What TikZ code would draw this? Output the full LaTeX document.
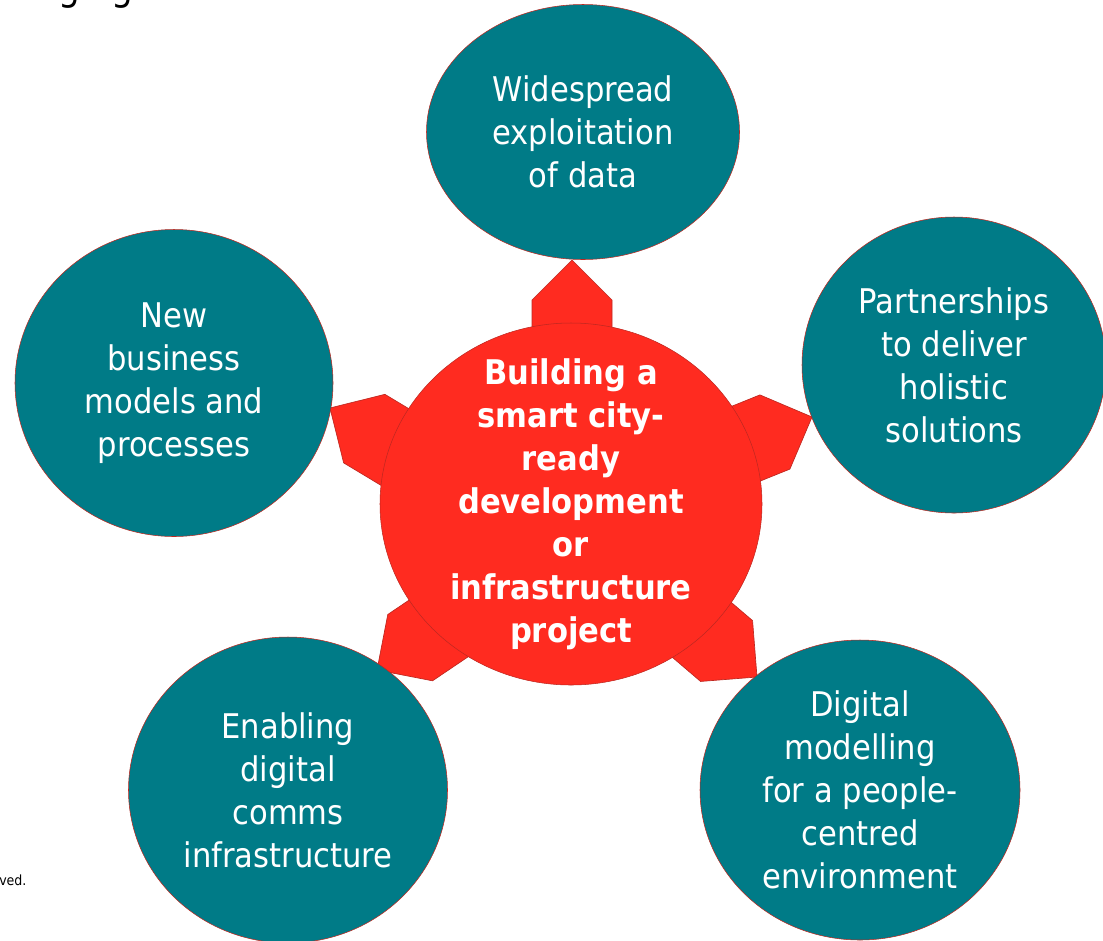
\documentclass[tikz,border=0pt]{standalone}
\usepackage{fontspec}
\setmainfont{DejaVu Sans Condensed}
\usetikzlibrary{shapes.geometric}
\definecolor{cityteal}{RGB}{0,123,135}
\definecolor{cityred}{RGB}{255,43,32}
\definecolor{cityedge}{RGB}{190,40,32}

\begin{document}
\begin{tikzpicture}[x=0.75pt, y=-0.75pt,
  hub/.style={ellipse, draw=cityedge, fill=cityred, inner sep=0pt,
    minimum width=286.5pt, minimum height=271.5pt},
  hubtext/.style={text=white, inner sep=0pt, align=center,
    font=\bfseries\fontsize{25.5}{32.25}\selectfont},
  spoke/.style={ellipse, draw=cityedge, fill=cityteal, text=white, inner sep=0pt,
    font=\fontsize{25.5}{32.25}\selectfont, align=center},
  pointer/.style={draw=cityedge, fill=cityred, line width=0.5pt}]
\useasboundingbox (0,0) rectangle (1103,940);

% Cut-off page text
\node[anchor=base west, inner sep=0pt, font=\fontsize{28.5}{34}\selectfont] (title) at (58,0) {ging};
\node[anchor=base west, inner sep=0pt, font=\fontsize{10.5}{12}\selectfont] (footer) at (-1,885) {ved.};

% Arrows: tip x / tip y / direction
\foreach \tx/\ty/\a in {572/260/90, 812/417/22, 330/408/149, 377/670/214, 757/677/319.5}
  \draw[pointer, shift={(\tx,\ty)}, rotate=\a] (0,0) -- (-40,40) -- (-150,40) -- (-150,-40) -- (-40,-40) -- cycle;

% Centre
\node[hub] (hub) at (571,504) {};
\node[hubtext] (hublabel) at (hub.center) {Building a\\smart city-\\ready\\development\\or\\infrastructure\\project};

% Outer circles
\node[spoke, minimum width=234.75pt, minimum height=191.25pt] (data) at (583,132) {Widespread\\exploitation\\of data};
\node[spoke, minimum width=228pt, minimum height=222pt] (partners) at (954,365) {Partnerships\\to deliver\\holistic\\solutions};
\node[spoke, minimum width=238.5pt, minimum height=230.25pt] (business) at (174,383) {New\\business\\models and\\processes};
\node[spoke, minimum width=239.25pt, minimum height=229.5pt] (comms) at (288,790) {Enabling\\digital\\comms\\infrastructure};
\node[spoke, minimum width=240pt, minimum height=225pt] (modelling) at (860,790) {Digital\\modelling\\for a people-\\centred\\environment};
\end{tikzpicture}
\end{document}
